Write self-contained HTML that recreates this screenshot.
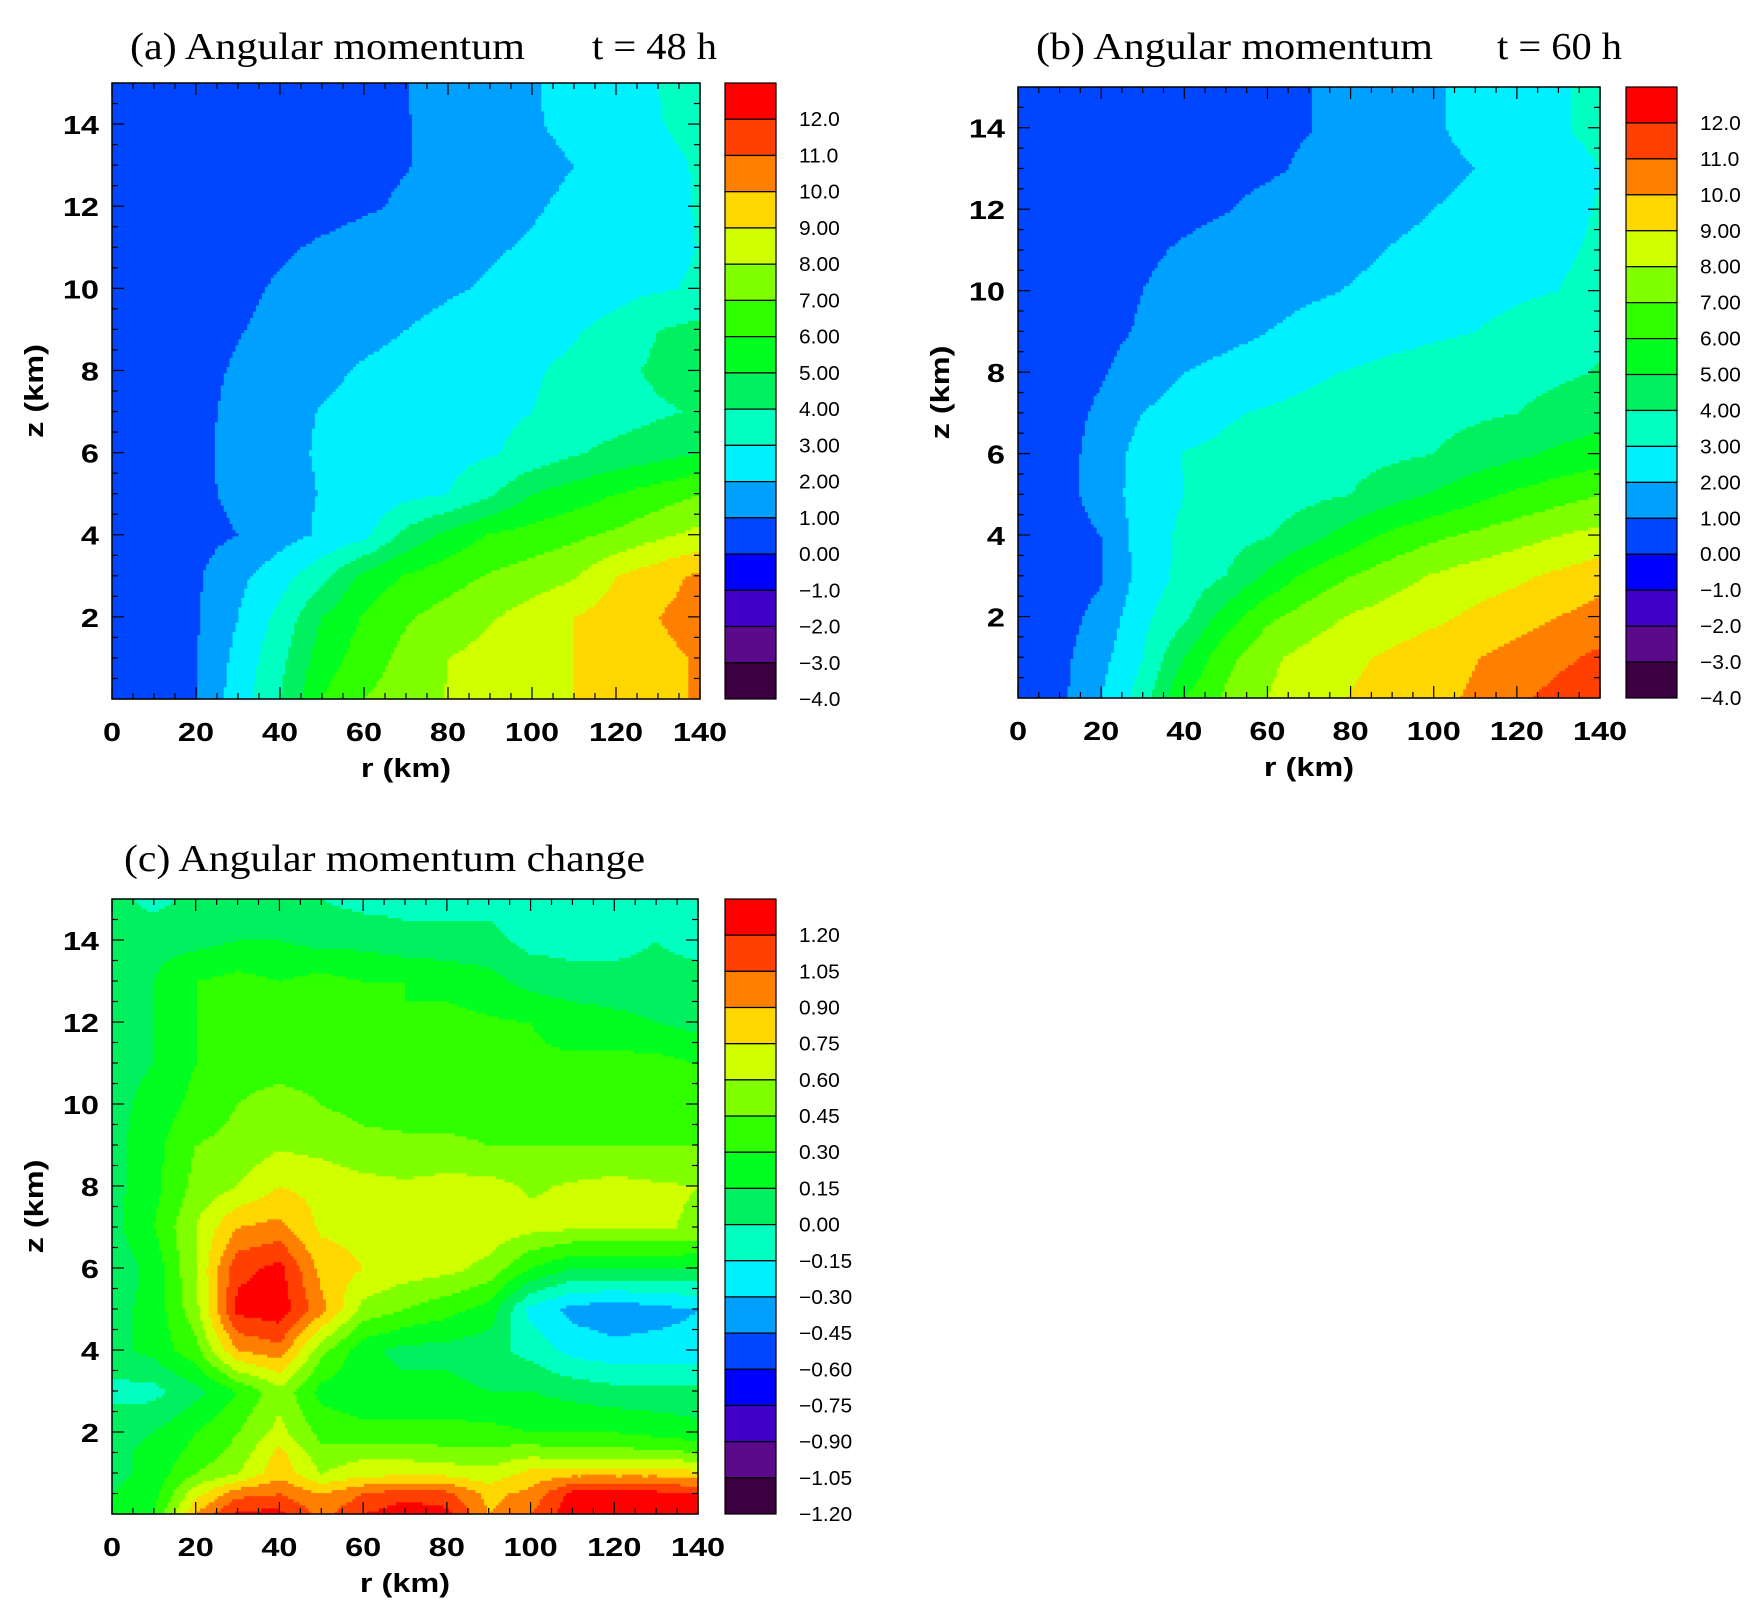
<!DOCTYPE html>
<html><head><meta charset="utf-8"><title>Angular momentum</title>
<style>html,body{margin:0;padding:0;background:#fff}svg{display:block}</style></head>
<body>
<svg id="fig" xmlns="http://www.w3.org/2000/svg" width="1760" height="1615" viewBox="0 0 1760 1615"></svg>
<script>
// ---- data ----
const rKm = [0,10,20,30,40,50,60,70,80,90,100,110,120,130,140];
const zKm = [0,1,2,3,4,5,6,7,8,9,10,11,12,13,14,15];
const zKmC = [0,0.5,1,1.5,2,3,4,5,6,7,8,9,10,11,12,13,14,15];
const xTickLabels = ["0","20","40","60","80","100","120","140"];
const yTickLabels = ["2","4","6","8","10","12","14"];
const levelLabelsAB = ["12.0","11.0","10.0","9.00","8.00","7.00","6.00","5.00","4.00","3.00","2.00","1.00","0.00","\u22121.0","\u22122.0","\u22123.0","\u22124.0"];
const levelLabelsC = ["1.20","1.05","0.90","0.75","0.60","0.45","0.30","0.15","0.00","\u22120.15","\u22120.30","\u22120.45","\u22120.60","\u22120.75","\u22120.90","\u22121.05","\u22121.20"];
const bandColors = ["#3a0040","#5a0a8a","#4000c8","#0000ff","#0046ff","#00a0ff","#00f0ff","#00ffc0","#00f060","#00ff20","#30ff00","#80ff00","#d0ff00","#ffd700","#ff8000","#ff4000","#ff0000"];
// panel (a) t=48h, rows z=0..15, cols r=0..140
const gridA = [
[0.2,0.6,1.0,2.5,4.0,6.0,7.0,7.5,8.05,8.4,8.7,9.0,9.4,9.75,10.1],
[0.2,0.6,0.95,2.3,3.7,5.5,6.5,7.3,8.0,8.35,8.7,9.0,9.4,9.75,10.1],
[0.2,0.55,0.9,2.0,3.3,5.0,6.1,6.9,7.4,7.9,8.45,9.0,9.5,10.0,10.4],
[0.2,0.5,0.85,1.75,2.6,3.7,5.3,6.1,6.6,7.1,7.5,7.9,9.0,9.6,10.2],
[0.2,0.4,0.7,1.0,1.6,2.15,2.7,4.3,5.3,6.1,6.4,6.8,7.2,7.8,8.3],
[0.2,0.5,0.8,1.2,1.65,2.05,2.35,2.7,3.0,3.85,5.0,5.5,6.0,6.5,7.0],
[0.2,0.5,0.8,1.25,1.75,2.1,2.3,2.5,2.7,2.9,3.3,3.9,4.3,4.6,5.0],
[0.2,0.5,0.8,1.2,1.7,2.05,2.25,2.45,2.6,2.8,3.0,3.3,3.55,3.85,4.1],
[0.2,0.45,0.75,1.1,1.4,1.8,2.1,2.3,2.5,2.7,2.9,3.2,3.7,4.2,4.5],
[0.2,0.4,0.65,0.95,1.25,1.5,1.75,2.0,2.25,2.45,2.65,2.9,3.3,4.0,4.3],
[0.2,0.35,0.55,0.8,1.1,1.3,1.5,1.7,1.9,2.1,2.3,2.5,2.7,2.9,3.1],
[0.2,0.3,0.5,0.7,0.9,1.1,1.3,1.5,1.7,1.9,2.1,2.35,2.6,2.8,3.02],
[0.1,0.2,0.3,0.45,0.6,0.75,0.9,1.1,1.4,1.65,1.9,2.2,2.5,2.8,3.05],
[0.1,0.2,0.3,0.4,0.55,0.7,0.85,0.97,1.2,1.45,1.7,2.0,2.35,2.7,3.1],
[0.1,0.2,0.3,0.4,0.55,0.7,0.85,0.97,1.25,1.55,1.9,2.25,2.6,2.95,3.3],
[0.1,0.2,0.3,0.4,0.55,0.7,0.85,0.97,1.27,1.58,1.93,2.28,2.63,3.0,3.35]];
// panel (b) t=60h
const gridB = [
[0.2,0.75,2.0,3.5,6.0,7.15,8.0,8.55,9.05,9.4,9.75,10.15,10.85,11.3,11.6],
[0.2,0.7,1.7,3.0,5.0,6.7,7.8,8.35,8.8,9.2,9.55,9.95,10.35,10.8,11.2],
[0.2,0.6,1.3,2.75,3.8,5.5,6.8,7.5,8.1,8.45,8.8,9.2,9.6,10.0,10.4],
[0.2,0.5,0.9,2.4,3.3,4.0,5.2,6.3,7.0,7.6,8.1,8.5,8.8,9.2,9.6],
[0.2,0.6,1.0,2.5,3.2,3.6,3.95,4.6,5.5,6.25,6.8,7.2,7.6,8.0,8.3],
[0.2,0.6,1.4,2.5,3.0,3.25,3.5,3.75,4.0,4.6,5.1,5.7,6.2,6.6,7.0],
[0.2,0.6,1.4,2.4,3.05,3.2,3.35,3.5,3.65,3.8,4.0,4.4,4.8,5.2,5.5],
[0.2,0.55,1.2,2.0,2.5,2.9,3.1,3.25,3.4,3.55,3.7,3.85,4.0,4.3,4.6],
[0.2,0.45,0.9,1.45,2.0,2.3,2.55,2.85,3.05,3.25,3.4,3.55,3.7,3.85,4.05],
[0.15,0.4,0.75,1.1,1.4,1.7,2.0,2.3,2.55,2.7,2.85,3.0,3.3,3.6,3.85],
[0.15,0.35,0.65,1.0,1.3,1.5,1.65,1.85,2.05,2.25,2.45,2.65,2.85,3.0,3.2],
[0.1,0.3,0.55,0.85,1.1,1.3,1.45,1.6,1.8,2.05,2.25,2.45,2.65,2.9,3.1],
[0.1,0.25,0.45,0.6,0.8,0.97,1.2,1.4,1.55,1.75,2.0,2.25,2.5,2.8,3.05],
[0.1,0.2,0.35,0.5,0.65,0.8,0.9,1.1,1.3,1.5,1.75,2.0,2.35,2.65,3.0],
[0.1,0.2,0.3,0.45,0.6,0.75,0.88,0.98,1.25,1.55,1.9,2.25,2.55,2.9,3.25],
[0.1,0.2,0.3,0.45,0.6,0.75,0.88,0.98,1.25,1.55,1.9,2.25,2.55,2.9,3.25]];
// panel (c) change, rows follow zKmC
const gridC = [
[0.15,0.3,0.9,1.25,1.25,1.0,1.2,1.3,1.25,0.9,1.05,1.3,1.35,1.35,1.3],
[0.15,0.25,0.7,1.0,1.05,0.9,1.05,1.15,1.1,0.85,0.95,1.25,1.25,1.25,1.2],
[0.1,0.2,0.45,0.6,0.85,0.6,0.7,0.7,0.7,0.65,0.8,0.85,0.85,0.85,0.8],
[0.1,0.2,0.35,0.5,0.8,0.5,0.55,0.55,0.5,0.5,0.55,0.5,0.5,0.5,0.45],
[0.1,0.15,0.3,0.45,0.65,0.4,0.35,0.35,0.35,0.35,0.3,0.3,0.3,0.25,0.2],
[-0.05,-0.05,0.1,0.3,0.55,0.25,0.2,0.2,0.2,0.15,0.15,0.1,0.05,0.05,0.05],
[0.1,0.2,0.4,0.9,1.0,0.5,0.2,0.1,0.1,0.05,-0.05,-0.2,-0.25,-0.25,-0.25],
[0.1,0.2,0.55,1.25,1.3,0.95,0.55,0.45,0.35,0.25,-0.2,-0.35,-0.4,-0.35,-0.3],
[0.05,0.2,0.6,1.15,1.25,0.85,0.75,0.68,0.65,0.55,0.3,0.15,0.15,0.15,0.15],
[0.1,0.3,0.6,0.9,0.95,0.72,0.7,0.7,0.7,0.7,0.65,0.62,0.62,0.62,0.58],
[0.1,0.25,0.5,0.6,0.75,0.7,0.65,0.62,0.65,0.65,0.58,0.62,0.65,0.62,0.6],
[0.1,0.25,0.45,0.5,0.58,0.55,0.5,0.5,0.5,0.45,0.45,0.45,0.45,0.45,0.45],
[0.1,0.2,0.35,0.45,0.5,0.45,0.4,0.35,0.33,0.35,0.32,0.33,0.4,0.35,0.35],
[0.1,0.15,0.3,0.4,0.4,0.4,0.45,0.35,0.3,0.35,0.32,0.32,0.35,0.35,0.3],
[0.1,0.15,0.3,0.4,0.4,0.35,0.35,0.3,0.35,0.32,0.3,0.25,0.2,0.15,0.1],
[0.1,0.15,0.3,0.35,0.3,0.35,0.3,0.3,0.25,0.2,0.1,0.05,0.05,0.05,0.05],
[0.1,0.1,0.1,0.15,0.15,0.1,0.1,0.05,0.05,0.05,-0.05,-0.05,-0.05,0.0,-0.05],
[0.05,-0.05,0.05,0.1,0.05,0.0,-0.05,-0.05,-0.05,-0.05,-0.1,-0.1,-0.1,-0.05,-0.05]];

const NS = "http://www.w3.org/2000/svg";
const svg = document.getElementById("fig");
function mk(tag, attrs, parent){
  const e = document.createElementNS(NS, tag);
  for (const k in attrs) e.setAttribute(k, attrs[k]);
  (parent||svg).appendChild(e);
  return e;
}
function txt(parent, x, y, s, size, anchor, family, weight, sx){
  const t = document.createElementNS(NS, "text");
  t.setAttribute("x", 0); t.setAttribute("y", 0);
  t.setAttribute("transform", "translate(" + x + "," + y + ") scale(" + (sx||1) + ",1)");
  t.setAttribute("font-size", size);
  t.setAttribute("text-anchor", anchor);
  t.setAttribute("font-family", family);
  t.setAttribute("font-weight", weight);
  t.textContent = s;
  parent.appendChild(t);
  return t;
}
function locate(arr, v){
  if (v <= arr[0]) return [0, 0];
  for (let i = 0; i < arr.length - 1; i++){
    if (v <= arr[i+1]) return [i, (v - arr[i]) / (arr[i+1] - arr[i])];
  }
  return [arr.length - 2, 1];
}
function sample(grid, zs, r, z){
  const [c0, fc] = locate(rKm, r);
  const [r0, fr] = locate(zs, z);
  const a = grid[r0][c0], b = grid[r0][c0+1], c = grid[r0+1][c0], d = grid[r0+1][c0+1];
  return (a*(1-fc) + b*fc)*(1-fr) + (c*(1-fc) + d*fc)*fr;
}
const SANS = "'Liberation Sans', Arial, sans-serif";
const SERIF = "'Liberation Serif', 'Times New Roman', serif";

function panel(cfg){
  const g = mk("g", {});
  
  
  const X = r => cfg.x0 + (r / 140) * (cfg.x1 - cfg.x0);
  const Y = z => cfg.y1 - (z / 15) * (cfg.y1 - cfg.y0);
  const field = mk("g", {}, g);
  
  
  const dr = 0.7, dz = 0.075;
  const nc = Math.round(140 / dr), nr = Math.round(15 / dz);
  for (let j = 0; j < nr; j++){
    const z = (j + 0.5) * dz;
    let runStart = 0, runBand = -1;
    const flush = (endI) => {
      const rect = mk("rect", {x: X(runStart*dr).toFixed(2), y: Y((j+1)*dz).toFixed(2),
        width: (X(endI*dr) - X(runStart*dr) + 0.6).toFixed(2), height: (Y(j*dz) - Y((j+1)*dz) + 0.6).toFixed(2),
        fill: bandColors[runBand]}, field);
      
      
    };
    for (let i = 0; i < nc; i++){
      const v = sample(cfg.grid, cfg.zs, (i + 0.5) * dr, z);
      let band = Math.floor((v - cfg.vmin) / cfg.step);
      band = Math.max(0, Math.min(16, band));
      if (band !== runBand){
        if (runBand >= 0) flush(i);
        runStart = i; runBand = band;
      }
    }
    flush(nc);
  }
  const frame = mk("rect", {x: cfg.x0, y: cfg.y0, width: cfg.x1 - cfg.x0, height: cfg.y1 - cfg.y0, fill: "none", stroke: "#000", "stroke-width": 1.5}, g);
  
  
  const ticks = mk("g", {stroke: "#000", "stroke-width": 1.2}, g);
  
  
  for (let r = 0; r <= 140; r += 5){
    const L = (r % 20 === 0) ? 12 : 6;
    mk("line", {x1: X(r), x2: X(r), y1: cfg.y1, y2: cfg.y1 - L}, ticks);
    mk("line", {x1: X(r), x2: X(r), y1: cfg.y0, y2: cfg.y0 + L}, ticks);
  }
  for (let z = 0.5; z < 15; z += 0.5){
    const L = (z % 2 === 0) ? 12 : 6;
    mk("line", {x1: cfg.x0, x2: cfg.x0 + L, y1: Y(z), y2: Y(z)}, ticks);
    mk("line", {x1: cfg.x1, x2: cfg.x1 - L, y1: Y(z), y2: Y(z)}, ticks);
  }
  xTickLabels.forEach((s, i) => {
    const t = txt(g, X(i * 20), cfg.y1 + 42, s, 26, "middle", SANS, "bold", 1.25);
    
    
  });
  yTickLabels.forEach((s, i) => {
    const t = txt(g, cfg.x0 - 13, Y((i + 1) * 2) + 10, s, 26, "end", SANS, "bold", 1.25);
    
    
  });
  const xt = txt(g, (cfg.x0 + cfg.x1) / 2, cfg.y1 + 78, "r (km)", 26, "middle", SANS, "bold", 1.25);
  
  
  const yt = txt(g, 0, 0, "z (km)", 26, "middle", SANS, "bold", 1.25);
  yt.setAttribute("transform", "translate(" + (cfg.x0 - 69) + "," + ((cfg.y0 + cfg.y1) / 2) + ") rotate(-90) scale(1.25,1)");
  
  
  const t1 = txt(g, cfg.titleX, cfg.titleY, cfg.title, 38, "start", SERIF, "normal", 1);
  t1.setAttribute("textLength", cfg.titleW);
  t1.setAttribute("lengthAdjust", "spacingAndGlyphs");
  
  
  if (cfg.time){
    const t2 = txt(g, cfg.timeX, cfg.titleY, cfg.time, 38, "start", SERIF, "normal", 1);
    t2.setAttribute("textLength", 125);
    t2.setAttribute("lengthAdjust", "spacingAndGlyphs");
    
    
  }
  const cb = mk("g", {}, g);
  
  
  const bh = (cfg.cy1 - cfg.y0) / 17;
  for (let k = 0; k < 17; k++){
    const rr = mk("rect", {x: cfg.cx0, y: cfg.y0 + k * bh, width: cfg.cx1 - cfg.cx0, height: bh, fill: bandColors[16 - k], stroke: "#000", "stroke-width": 1.2}, cb);
    
    
  }
  cfg.labels.forEach((s, k) => {
    const t = txt(cb, cfg.cx1 + 23, cfg.y0 + (k + 1) * bh + 7, s, 20, "start", SANS, "normal", 1.05);
    
    
  });
}

panel({name: "panel-a", grid: gridA, zs: zKm, vmin: -4, step: 1, x0: 112, x1: 700, y0: 83, y1: 699,
  cx0: 725, cx1: 776, cy1: 699, labels: levelLabelsAB,
  title: "(a) Angular momentum", titleX: 130, titleY: 59, titleW: 395, time: "t = 48 h", timeX: 592});
panel({name: "panel-b", grid: gridB, zs: zKm, vmin: -4, step: 1, x0: 1018, x1: 1600, y0: 87, y1: 698,
  cx0: 1626, cx1: 1677, cy1: 698, labels: levelLabelsAB,
  title: "(b) Angular momentum", titleX: 1036, titleY: 59, titleW: 397, time: "t = 60 h", timeX: 1497});
panel({name: "panel-c", grid: gridC, zs: zKmC, vmin: -1.2, step: 0.15, x0: 112, x1: 698, y0: 899, y1: 1514,
  cx0: 725, cx1: 776, cy1: 1514, labels: levelLabelsC,
  title: "(c) Angular momentum change", titleX: 124, titleY: 871, titleW: 521});
</script>
</body></html>
